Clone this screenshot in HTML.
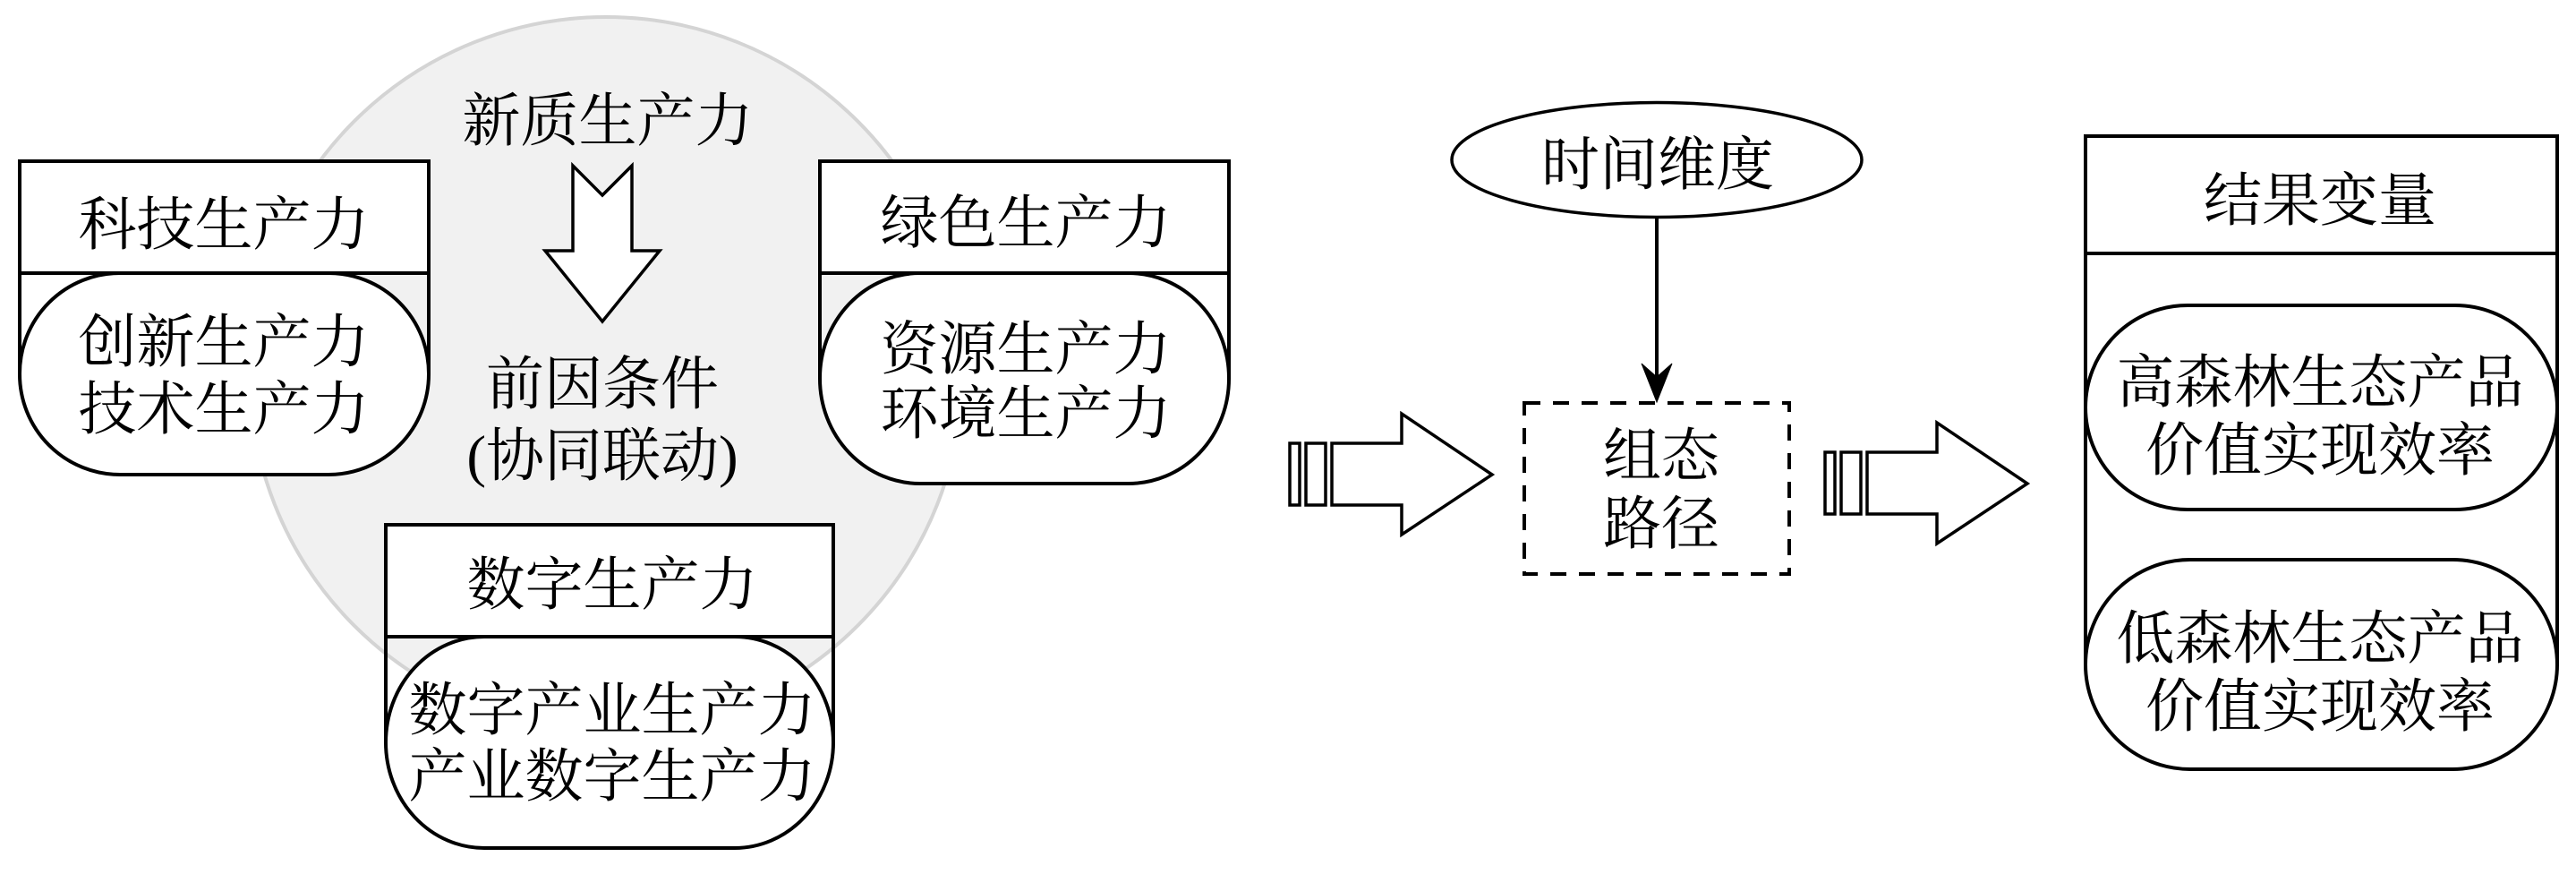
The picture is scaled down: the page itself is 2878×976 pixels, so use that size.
<!DOCTYPE html>
<html>
<head>
<meta charset="utf-8">
<style>
  html, body { margin:0; padding:0; background:#fff; }
  svg { display:block; }
  text { font-family: "Liberation Serif", "Noto Serif CJK SC", serif; font-size:65px; fill:#000; }
</style>
</head>
<body>
<svg width="2878" height="976" viewBox="0 0 2878 976" xmlns="http://www.w3.org/2000/svg">
  <rect x="0" y="0" width="2878" height="976" fill="#fff"/>

  <!-- big gray circle -->
  <circle cx="677" cy="417" r="398" fill="#f1f1f1" stroke="#d4d4d4" stroke-width="4"/>

  <!-- down block arrow -->
  <polygon points="640,185 673,218 706,185 706,280 737,280 673,359 609,280 640,280" fill="#fff" stroke="#000" stroke-width="3.5" stroke-linejoin="miter"/>

  <text x="679" y="157" text-anchor="middle">新质生产力</text>
  <text x="673" y="451" text-anchor="middle">前因条件</text>
  <text x="673" y="531" text-anchor="middle">(协同联动)</text>

  <!-- 科技生产力 box -->
  <g stroke="#000" stroke-width="4">
    <line x1="22" y1="305" x2="22" y2="418"/>
    <line x1="479" y1="305" x2="479" y2="418"/>
    <rect x="22" y="180" width="457" height="125" fill="#fff"/>
    <rect x="22" y="305" width="457" height="225" rx="112" ry="112" fill="#fff"/>
  </g>
  <text x="250" y="273" text-anchor="middle">科技生产力</text>
  <text x="250" y="404" text-anchor="middle">创新生产力</text>
  <text x="250" y="479" text-anchor="middle">技术生产力</text>

  <!-- 绿色生产力 box -->
  <g stroke="#000" stroke-width="4">
    <line x1="916" y1="305" x2="916" y2="422"/>
    <line x1="1373" y1="305" x2="1373" y2="422"/>
    <rect x="916" y="180" width="457" height="125" fill="#fff"/>
    <rect x="916" y="305" width="457" height="235" rx="112" ry="117" fill="#fff"/>
  </g>
  <text x="1146" y="271" text-anchor="middle">绿色生产力</text>
  <text x="1146" y="412" text-anchor="middle">资源生产力</text>
  <text x="1146" y="484" text-anchor="middle">环境生产力</text>

  <!-- 数字生产力 box -->
  <g stroke="#000" stroke-width="4">
    <line x1="431" y1="711" x2="431" y2="829"/>
    <line x1="931" y1="711" x2="931" y2="829"/>
    <rect x="431" y="586" width="500" height="125" fill="#fff"/>
    <rect x="431" y="711" width="500" height="236" rx="110" ry="118" fill="#fff"/>
  </g>
  <text x="684" y="675" text-anchor="middle">数字生产力</text>
  <text x="684" y="815" text-anchor="middle">数字产业生产力</text>
  <text x="684" y="889" text-anchor="middle">产业数字生产力</text>

  <!-- block arrow 1 -->
  <g id="barrow" fill="#fff" stroke="#000" stroke-width="3.5" stroke-linejoin="miter">
    <rect x="1441" y="495" width="11" height="69"/>
    <rect x="1459" y="495" width="22" height="69"/>
    <polygon points="1488,495 1566,495 1566,462 1667,530 1566,597 1566,564 1488,564"/>
  </g>

  <!-- 时间维度 ellipse -->
  <ellipse cx="1851" cy="178.5" rx="229" ry="64" fill="#fff" stroke="#000" stroke-width="3.5"/>
  <text x="1852" y="206" text-anchor="middle">时间维度</text>

  <!-- arrow down -->
  <line x1="1851" y1="243" x2="1851" y2="425" stroke="#000" stroke-width="4"/>
  <polygon points="1851,449 1834,406 1851,421 1868,406" fill="#000" stroke="#000" stroke-width="1"/>

  <!-- dashed box -->
  <rect x="1703" y="450" width="296" height="191" fill="none" stroke="#000" stroke-width="4" stroke-dasharray="18 14"/>
  <text x="1856" y="531" text-anchor="middle">组态</text>
  <text x="1856" y="607" text-anchor="middle">路径</text>

  <!-- block arrow 2 -->
  <g transform="translate(598,10)" fill="#fff" stroke="#000" stroke-width="3.5" stroke-linejoin="miter">
    <rect x="1441" y="495" width="11" height="69"/>
    <rect x="1459" y="495" width="22" height="69"/>
    <polygon points="1488,495 1566,495 1566,462 1667,530 1566,597 1566,564 1488,564"/>
  </g>

  <!-- 结果变量 box -->
  <g stroke="#000" stroke-width="4">
    <line x1="2330" y1="283" x2="2330" y2="742"/>
    <line x1="2857" y1="283" x2="2857" y2="742"/>
    <rect x="2330" y="152" width="527" height="131" fill="#fff"/>
    <rect x="2330" y="341" width="527" height="228" rx="114" ry="114" fill="#fff"/>
    <rect x="2330" y="625" width="527" height="234" rx="117" ry="117" fill="#fff"/>
  </g>
  <text x="2592" y="246" text-anchor="middle">结果变量</text>
  <text x="2592" y="449" text-anchor="middle">高森林生态产品</text>
  <text x="2592" y="525" text-anchor="middle">价值实现效率</text>
  <text x="2592" y="735" text-anchor="middle">低森林生态产品</text>
  <text x="2592" y="811" text-anchor="middle">价值实现效率</text>
</svg>
</body>
</html>
